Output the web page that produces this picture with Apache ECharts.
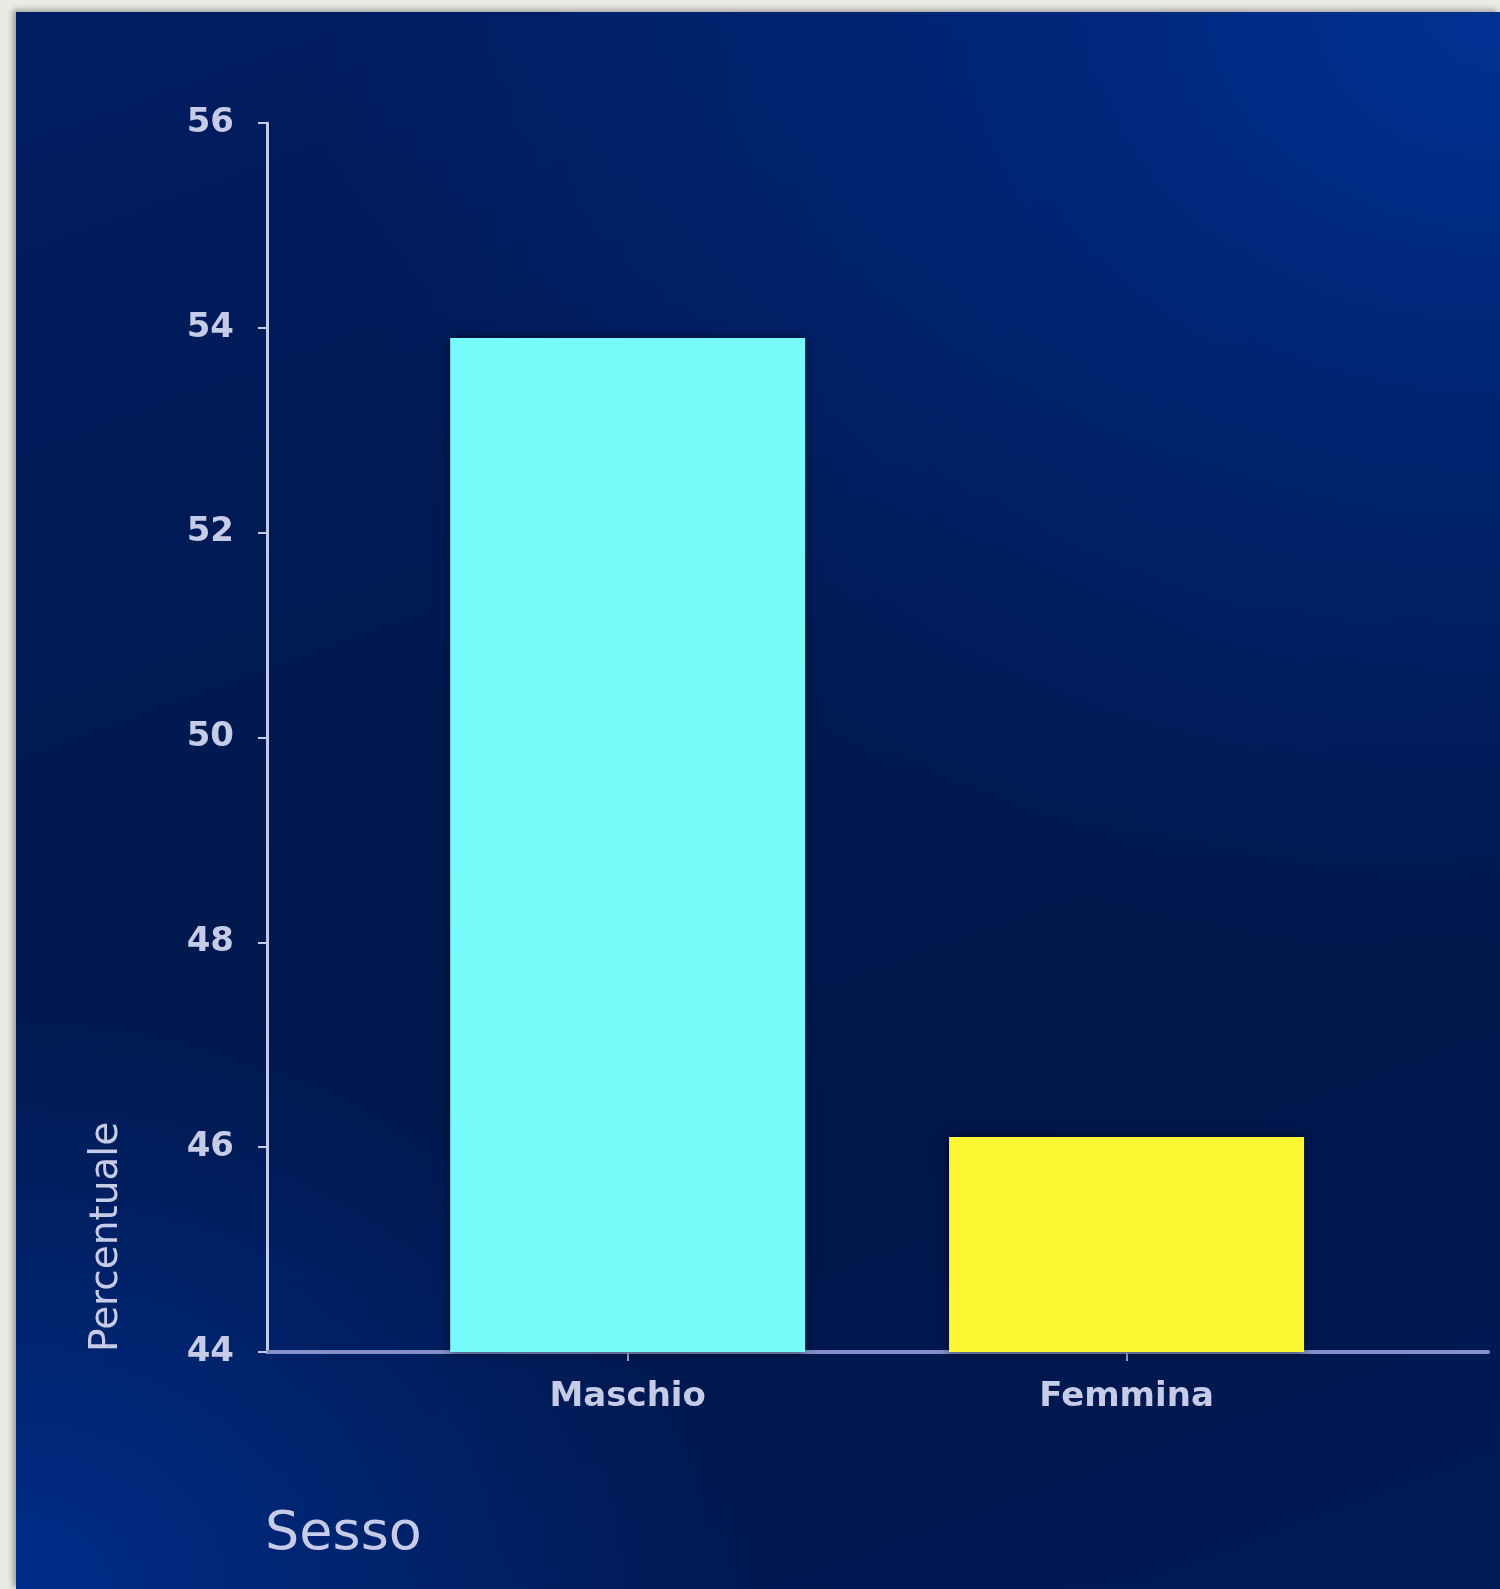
<!DOCTYPE html>
<html>
<head>
<meta charset="utf-8">
<script src="https://cdn.jsdelivr.net/npm/echarts@6/dist/echarts.min.js"></script>
<style>
  html, body { margin: 0; padding: 0; }
  body { width: 1500px; height: 1589px; background: #ebeae6; position: relative; overflow: hidden; }
  /* pannello blu della diapositiva */
  #panel {
    position: absolute; left: 16px; top: 12px; width: 1484px; height: 1577px;
    box-shadow: -3px -2px 6px rgba(0, 0, 0, 0.35);
    background:
      radial-gradient(ellipse 80% 60% at 100% 0%, #003294 0%, rgba(0, 44, 140, 0.6) 40%, rgba(0, 30, 100, 0) 100%),
      radial-gradient(ellipse 50% 38% at 0% 100%, #002d8a 0%, rgba(0, 40, 125, 0) 100%),
      linear-gradient(160deg, #001d63 0%, #00194f 40%, #00174b 70%, #001a56 100%);
  }
  #chart { position: absolute; left: 0; top: 0; width: 1500px; height: 1589px; }
</style>
</head>
<body>
<div id="panel"></div>
<div id="chart"></div>
<script>
// dati
const categories = ['Maschio', 'Femmina'];
const values = [53.9, 46.1];
const barColors = ['#79fafa', '#fdf633'];
const yMin = 44;
const yMax = 56;
const yStep = 2;
const yName = 'Percentuale';
const xName = 'Sesso';

const textColor = '#c6cbe7';
const font = '"DejaVu Sans", Verdana, sans-serif';

const myChart = echarts.init(document.getElementById('chart'), null, { renderer: 'canvas' });

// posizioni sull'asse x: un indice per categoria
const positions = categories.map((c, i) => i);

const seriesData = values.map((v, i) => {
  return {
    value: [positions[i], v],
    itemStyle: {
      color: barColors[i % barColors.length],
      shadowBlur: 10,
      shadowColor: 'rgba(0, 0, 0, 0.55)'
    }
  };
});

const option = {
  backgroundColor: 'transparent',
  animation: false,
  grid: { left: 267, right: 12, top: 123, bottom: 237 },
  xAxis: {
    type: 'value',
    min: -0.723,
    max: 1.7245,
    splitLine: { show: false },
    axisLine: { show: true, onZero: false, lineStyle: { color: '#838fc6', width: 4 } },
    axisTick: {
      show: true,
      customValues: positions,
      length: 9,
      lineStyle: { color: '#9aa3d2', width: 2 }
    },
    axisLabel: {
      customValues: positions,
      margin: 28,
      color: textColor,
      fontFamily: font,
      fontSize: 34,
      fontWeight: 'bold',
      formatter: (v) => categories[Math.round(v)] || ''
    }
  },
  yAxis: {
    type: 'value',
    min: yMin,
    max: yMax,
    interval: yStep,
    splitLine: { show: false },
    axisLine: { show: true, onZero: false, lineStyle: { color: '#c3c9e8', width: 3 } },
    axisTick: { show: true, length: 9, lineStyle: { color: '#c3c9e8', width: 2 } },
    axisLabel: {
      margin: 33,
      color: textColor,
      fontFamily: font,
      fontSize: 34,
      fontWeight: 'bold'
    }
  },
  series: [
    {
      type: 'bar',
      barWidth: 355,
      data: seriesData
    }
  ],
  graphic: [
    {
      type: 'text',
      x: 107,
      y: 1352,
      rotation: Math.PI / 2,
      style: {
        text: yName,
        fill: textColor,
        font: '39px ' + font,
        align: 'left',
        verticalAlign: 'middle'
      }
    },
    {
      type: 'text',
      x: 265,
      y: 1535,
      style: {
        text: xName,
        fill: textColor,
        font: '54px ' + font,
        align: 'left',
        verticalAlign: 'middle'
      }
    }
  ]
};

myChart.setOption(option);
</script>
</body>
</html>
